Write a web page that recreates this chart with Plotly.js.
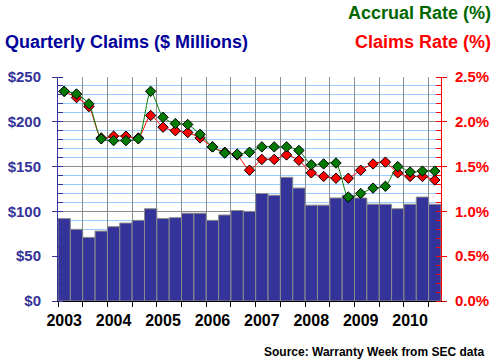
<!DOCTYPE html>
<html>
<head>
<meta charset="utf-8">
<script src="https://cdn.plot.ly/plotly-3.0.1.min.js"></script>
<style>html,body{margin:0;padding:0;background:#fff;}#chart{width:498px;height:363px;}</style>
</head>
<body>
<div id="chart"></div>
<script>
const quarters = [
  '2003 Q1','2003 Q2','2003 Q3','2003 Q4',
  '2004 Q1','2004 Q2','2004 Q3','2004 Q4',
  '2005 Q1','2005 Q2','2005 Q3','2005 Q4',
  '2006 Q1','2006 Q2','2006 Q3','2006 Q4',
  '2007 Q1','2007 Q2','2007 Q3','2007 Q4',
  '2008 Q1','2008 Q2','2008 Q3','2008 Q4',
  '2009 Q1','2009 Q2','2009 Q3','2009 Q4',
  '2010 Q1','2010 Q2','2010 Q3'
];
const claimsMillions = [92, 80, 71, 78, 83, 87, 90, 103, 92, 93, 98, 98, 90, 96, 101, 100,
  120, 118, 138, 126, 107, 107, 115, 118, 115, 108, 108, 103, 108, 116, 108];
const claimsRate = [2.34, 2.27, 2.17, 1.82, 1.84, 1.84, 1.82, 2.07, 1.94, 1.90, 1.88, 1.82, 1.72, 1.66, 1.63, 1.46,
  1.58, 1.58, 1.63, 1.57, 1.43, 1.39, 1.37, 1.37, 1.46, 1.53, 1.55, 1.43, 1.39, 1.39, 1.35];
const accrualRate = [2.34, 2.31, 2.20, 1.81, 1.79, 1.79, 1.81, 2.34, 2.05, 1.98, 1.97, 1.86, 1.72, 1.65, 1.64, 1.66,
  1.72, 1.72, 1.72, 1.68, 1.52, 1.53, 1.54, 1.16, 1.20, 1.26, 1.28, 1.50, 1.44, 1.45, 1.45];
const yearTicks = quarters.filter(q => q.endsWith('Q1'));
const yearLabels = yearTicks.map(q => q.slice(0, 4));

const F = 'Arial, "Liberation Sans", sans-serif';
const traces = [
  {type:'bar', x:quarters, y:claimsMillions, xaxis:'x', yaxis:'y',
   marker:{color:'#333399', line:{color:'#8c8c8c', width:1}}, width:1, hoverinfo:'skip'},
  {type:'scatter', mode:'lines+markers', x:quarters, y:claimsRate, xaxis:'x2', yaxis:'y2',
   line:{color:'#ff0000', width:1, shape:'spline', smoothing:0.7},
   marker:{symbol:'diamond', size:8, color:'#ff0000', line:{color:'#000', width:1}}},
  {type:'scatter', mode:'lines+markers', x:quarters, y:accrualRate, xaxis:'x2', yaxis:'y2',
   line:{color:'#008000', width:1, shape:'spline', smoothing:0.7},
   marker:{symbol:'diamond', size:8, color:'#007a00', line:{color:'#000', width:1}}}
];
const layout = {
  width:498, height:363, showlegend:false, bargap:0,
  paper_bgcolor:'#fff', plot_bgcolor:'#fff',
  margin:{l:58, r:57, t:77, b:62, pad:0},
  font:{family:F},
  xaxis:{type:'category', categoryarray:quarters, range:[-0.5, quarters.length-0.5],
    tickson:'boundaries', showticklabels:false, ticks:'outside', ticklen:5, tickcolor:'#000',
    showgrid:true, gridcolor:'#8c8c8c', gridwidth:1, showline:true, linecolor:'#000', zeroline:false, fixedrange:true},
  xaxis2:{type:'category', categoryarray:quarters, overlaying:'x', matches:'x', side:'bottom',
    tickmode:'array', tickvals:yearTicks, ticktext:yearLabels, ticks:'', showgrid:false, showline:false,
    ticklabelstandoff:8,
    tickfont:{family:F, size:16, color:'#000', weight:'bold'}},
  yaxis:{range:[0,250], dtick:50, tickprefix:'$', showgrid:true, gridcolor:'#8c8c8c',
    tickfont:{family:F, size:15, color:'#333399', weight:'bold'}, ticklabelstandoff:8,
    showline:true, linecolor:'#333399', linewidth:1, ticks:'outside', ticklen:5, tickcolor:'#333399',
    zeroline:false,
    minor:{dtick:10, showgrid:true, gridcolor:'#99ccff', ticks:'inside', ticklen:5, tickcolor:'#333399'}},
  yaxis2:{range:[0,2.5], dtick:0.5, overlaying:'y', side:'right', ticksuffix:'%', tickformat:'.1f',
    showgrid:false, showline:true, linecolor:'#ff0000', ticks:'outside', ticklen:5, tickcolor:'#ff0000',
    ticklabelstandoff:5,
    tickfont:{family:F, size:15, color:'#ff0000', weight:'bold'}, zeroline:false,
    minor:{dtick:0.1, ticks:'inside', ticklen:5, tickcolor:'#ff0000', showgrid:false}},
  annotations:[
    {text:'Quarterly Claims ($ Millions)', xref:'paper', yref:'paper', x:-0.1436, y:1.156, xanchor:'left', yanchor:'middle',
     showarrow:false, font:{family:F, size:18, color:'#000099', weight:'bold'}},
    {text:'Claims Rate (%)', xref:'paper', yref:'paper', x:1.136, y:1.156, xanchor:'right', yanchor:'middle',
     showarrow:false, font:{family:F, size:18, color:'#ff0000', weight:'bold'}},
    {text:'Accrual Rate (%)', xref:'paper', yref:'paper', x:1.136, y:1.287, xanchor:'right', yanchor:'middle',
     showarrow:false, font:{family:F, size:18, color:'#006600', weight:'bold'}},
    {text:'Source: Warranty Week from SEC data', xref:'paper', yref:'paper', x:1.1175, y:-0.228, xanchor:'right', yanchor:'middle',
     showarrow:false, font:{family:F, size:12, color:'#000', weight:'bold'}}
  ]
};
Plotly.newPlot('chart', traces, layout, {staticPlot:true, displayModeBar:false});
</script>
</body>
</html>
